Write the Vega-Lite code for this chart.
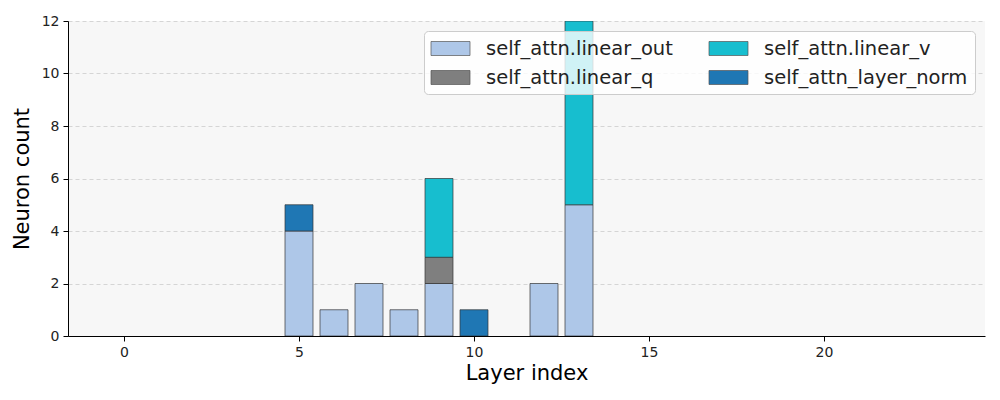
{
  "$schema": "https://vega.github.io/schema/vega-lite/v6.json",
  "width": 917,
  "height": 315,
  "autosize": {"type": "none"},
  "padding": {"left": 68, "top": 21, "right": 15, "bottom": 64},
  "background": "white",
  "config": {
    "font": "DejaVu Sans",
    "view": {"fill": "#f7f7f7", "stroke": null},
    "axis": {
      "domainColor": "black",
      "domainWidth": 1,
      "tickColor": "black",
      "tickSize": 5,
      "labelFontSize": 14,
      "labelColor": "#222",
      "titleFontSize": 21,
      "titleFontWeight": "normal",
      "titleColor": "black",
      "labelPadding": 4
    }
  },
  "data": {
    "values": [
      {"layer": 5, "series": "self_attn.linear_out", "count": 4},
      {"layer": 5, "series": "self_attn_layer_norm", "count": 1},
      {"layer": 6, "series": "self_attn.linear_out", "count": 1},
      {"layer": 7, "series": "self_attn.linear_out", "count": 2},
      {"layer": 8, "series": "self_attn.linear_out", "count": 1},
      {"layer": 9, "series": "self_attn.linear_out", "count": 2},
      {"layer": 9, "series": "self_attn.linear_q", "count": 1},
      {"layer": 9, "series": "self_attn.linear_v", "count": 3},
      {"layer": 10, "series": "self_attn_layer_norm", "count": 1},
      {"layer": 12, "series": "self_attn.linear_out", "count": 2},
      {"layer": 13, "series": "self_attn.linear_out", "count": 5},
      {"layer": 13, "series": "self_attn.linear_v", "count": 7}
    ]
  },
  "mark": {"type": "bar", "size": 28, "stroke": "#333", "strokeWidth": 0.7, "clip": true},
  "encoding": {
    "x": {
      "field": "layer",
      "type": "quantitative",
      "title": "Layer index",
      "scale": {"domain": [-1.6, 24.6], "nice": false, "zero": false, "padding": 0},
      "axis": {"values": [0, 5, 10, 15, 20], "grid": false, "titlePadding": 3}
    },
    "y": {
      "field": "count",
      "type": "quantitative",
      "aggregate": "sum",
      "stack": "zero",
      "title": "Neuron count",
      "scale": {"domain": [0, 12], "nice": false},
      "axis": {
        "values": [0, 2, 4, 6, 8, 10, 12],
        "grid": true,
        "gridColor": "#cccccc",
        "gridDash": [4, 3],
        "gridWidth": 0.8,
        "titlePadding": 9
      }
    },
    "color": {
      "field": "series",
      "type": "nominal",
      "scale": {
        "domain": ["self_attn.linear_out", "self_attn.linear_q", "self_attn.linear_v", "self_attn_layer_norm"],
        "range": ["#aec7e8", "#7f7f7f", "#17becf", "#1f77b4"]
      },
      "legend": {
        "title": null,
        "orient": "top-right",
        "offset": 10,
        "columns": 2,
        "columnPadding": 34,
        "rowPadding": 9,
        "padding": 7,
        "labelFontSize": 19.5,
        "labelLimit": 400,
        "labelColor": "#222",
        "labelOffset": 25,
        "symbolOffset": 9,
        "symbolType": "M-1.95,-0.7L1.95,-0.7L1.95,0.7L-1.95,0.7Z",
        "symbolSize": 400,
        "symbolStrokeColor": "#555",
        "symbolStrokeWidth": 0.7,
        "fillColor": "rgba(255,255,255,0.8)",
        "strokeColor": "#cccccc",
        "cornerRadius": 4
      }
    },
    "order": {"field": "series", "sort": "ascending"}
  }
}
